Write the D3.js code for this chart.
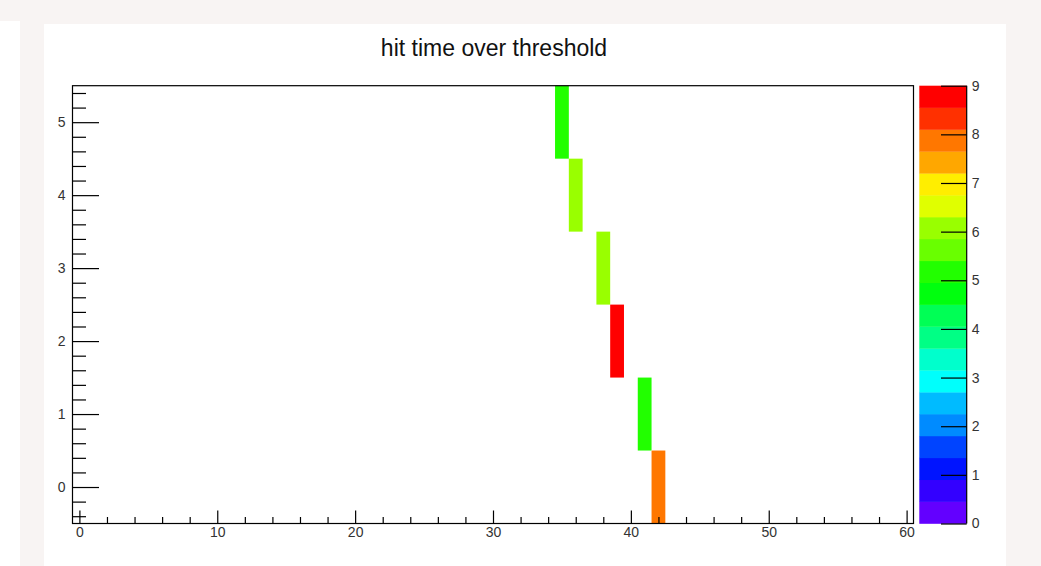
<!DOCTYPE html>
<html><head><meta charset="utf-8">
<script src="https://cdn.jsdelivr.net/npm/d3@7"></script>
<style>
body{margin:0;background:#f8f4f3;}
svg{display:block;}
text{font-family:"Liberation Sans",Arial,Helvetica,sans-serif;}
</style>
</head><body><svg id="c" width="1041" height="566"></svg>
<script>
// ---- data ----
const title = "hit time over threshold";
const binX = [35, 36, 38, 39, 41, 42];
const binY = [5, 4, 3, 2, 1, 0];
const counts = [5, 6, 6, 9, 5, 8];
const xTicks = [0, 10, 20, 30, 40, 50, 60];
const xMinor = d3.range(0, 61, 2);
const yTicks = [0, 1, 2, 3, 4, 5];
const yMinor = d3.range(-4, 55, 2).map(v => v / 10);
const zTicks = [0, 1, 2, 3, 4, 5, 6, 7, 8, 9];
const xDomain = [-0.5, 60.5];
const yDomain = [-0.5, 5.5];
const zDomain = [0, 9];
const nContours = 20;

const svg = d3.select("#c");
svg.append("rect").attr("x", 0).attr("y", 21).attr("width", 20).attr("height", 545).attr("fill", "#fff");
svg.append("rect").attr("x", 44).attr("y", 24).attr("width", 962).attr("height", 542).attr("fill", "#fff");

const L = 72.5, R = 913.5, T = 85.7, B = 523.5;
const x = d3.scaleLinear().domain(xDomain).range([L, R]);
const y = d3.scaleLinear().domain(yDomain).range([B, T]);
const zb = { x0: 919.3, x1: 966.7 };
const z = d3.scaleLinear().domain(zDomain).range([B, T]);

// ROOT "pretty palette" (violet -> red), 50 colours, 20 contours
function contourColor(k) {
  const idx = Math.floor((k + 0.99) * 50 / nContours);
  const hue = 280 - (idx + 1) * 5.6;
  return d3.hsl(hue, 1, 0.5).formatHex();
}
const step = (zDomain[1] - zDomain[0]) / nContours;
const colorOf = v => contourColor(Math.min(nContours - 1, Math.floor((v - zDomain[0]) / step)));

// cells
const cells = binX.map((bx, i) => ({ bx, by: binY[i], c: counts[i] }));
svg.append("g").selectAll("rect").data(cells).join("rect")
  .attr("x", d => x(d.bx - 0.5)).attr("width", d => x(d.bx + 0.5) - x(d.bx - 0.5))
  .attr("y", d => y(d.by + 0.5)).attr("height", d => y(d.by - 0.5) - y(d.by + 0.5))
  .attr("fill", d => colorOf(d.c));

function styleAxis(g) {
  g.attr("font-size", 14).attr("font-family", '"Liberation Sans",Arial,sans-serif');
  g.select(".domain").remove();
  g.selectAll(".tick line").attr("stroke", "#000").attr("stroke-width", 1.2);
  g.selectAll(".tick text").attr("fill", "#333").style("font-size", "14px");
}

// x axis
svg.append("g").attr("transform", `translate(0,${B})`)
  .call(d3.axisBottom(x).tickValues(xMinor.filter(v => v % 10 !== 0)).tickSize(-6.5).tickFormat(""))
  .call(styleAxis);
svg.append("g").attr("transform", `translate(0,${B})`)
  .call(d3.axisBottom(x).tickValues(xTicks).tickSize(-13).tickPadding(4).tickFormat(d3.format("d")))
  .call(styleAxis);

// y axis
svg.append("g").attr("transform", `translate(${L},0)`)
  .call(d3.axisLeft(y).tickValues(yMinor.filter(v => Math.abs(v - Math.round(v)) > 1e-6)).tickSize(-13.5).tickFormat(""))
  .call(styleAxis);
svg.append("g").attr("transform", `translate(${L},0)`)
  .call(d3.axisLeft(y).tickValues(yTicks).tickSize(-26.5).tickPadding(7).tickFormat(d3.format("d")))
  .call(styleAxis);

// frame
svg.append("rect").attr("x", L).attr("y", T).attr("width", R - L).attr("height", B - T)
  .attr("fill", "none").attr("stroke", "#000").attr("stroke-width", 1.2);

// colour bar
const bands = d3.range(nContours);
svg.append("g").selectAll("rect").data(bands).join("rect")
  .attr("x", zb.x0).attr("width", zb.x1 - zb.x0)
  .attr("y", k => z(zDomain[0] + (k + 1) * step))
  .attr("height", k => z(zDomain[0] + k * step) - z(zDomain[0] + (k + 1) * step) + 0.3)
  .attr("fill", k => contourColor(k));
svg.append("line").attr("x1", zb.x1).attr("x2", zb.x1).attr("y1", T).attr("y2", B)
  .attr("stroke", "#000").attr("stroke-width", 1.2);
svg.append("g").attr("transform", `translate(${zb.x1},0)`)
  .call(d3.axisRight(z).tickValues(zTicks).tickSize(-25.7).tickPadding(5).tickFormat(d3.format("d")))
  .call(styleAxis);

// title
svg.append("text").attr("x", 494).attr("y", 56).attr("text-anchor", "middle")
  .attr("font-size", 23).attr("fill", "#111").text(title);
</script>
</body></html>
